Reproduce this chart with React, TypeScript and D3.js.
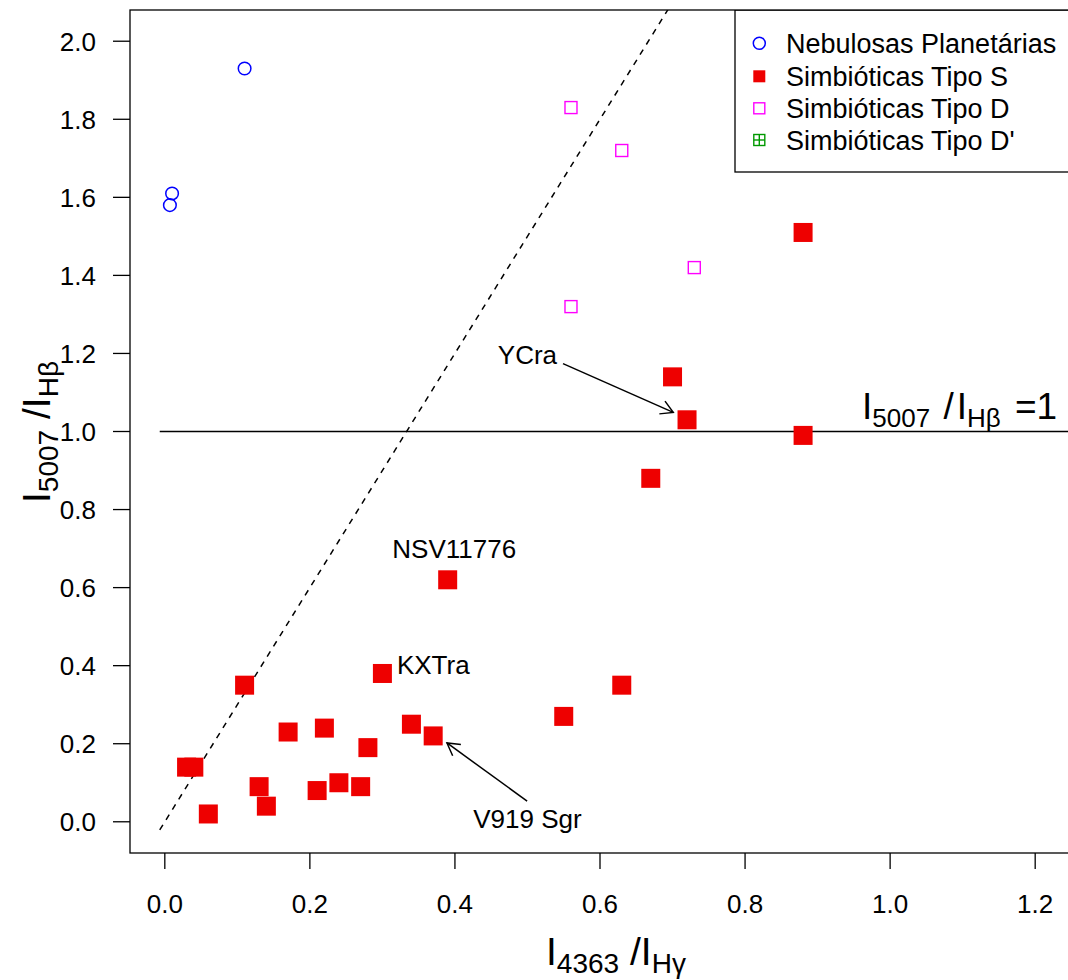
import React from "react";
import * as d3 from "d3";

// ---- data ----
const nebulosasX = [0.11, 0.01, 0.007];
const nebulosasY = [1.93, 1.61, 1.58];

const tipoSX = [0.03, 0.04, 0.06, 0.11, 0.13, 0.14, 0.17, 0.21, 0.24, 0.22, 0.27, 0.28, 0.3, 0.34, 0.37, 0.39, 0.55, 0.63, 0.67, 0.7, 0.72, 0.88, 0.88];
const tipoSY = [0.14, 0.14, 0.02, 0.35, 0.09, 0.04, 0.23, 0.08, 0.1, 0.24, 0.09, 0.19, 0.38, 0.25, 0.22, 0.62, 0.27, 0.35, 0.88, 1.14, 1.03, 0.99, 1.51];

const tipoDX = [0.56, 0.63, 0.73, 0.56];
const tipoDY = [1.83, 1.72, 1.42, 1.32];

const xTicks = [0, 0.2, 0.4, 0.6, 0.8, 1.0, 1.2];
const yTicks = [0, 0.2, 0.4, 0.6, 0.8, 1.0, 1.2, 1.4, 1.6, 1.8, 2.0];

const legendLabels = ["Nebulosas Planetárias", "Simbióticas Tipo S", "Simbióticas Tipo D", "Simbióticas Tipo D'"];

const annotText = ["YCra", "NSV11776", "KXTra", "V919 Sgr"];
const annotX = [0.5, 0.399, 0.32, 0.5];
const annotY = [1.174, 0.675, 0.379, -0.015];
const annotAnchor = ["middle", "middle", "start", "middle"];

// arrows: [x0, y0, x1, y1] in data units (tip at x1,y1)
const arrows = [
  [0.549, 1.174, 0.701, 1.049],
  [0.4995, 0.053, 0.389, 0.202],
];

const refLineX = [-0.007, 1.4];
const refLineY = 1.0;
const dashSlope = 3;

const W = 1068;
const H = 980;
const FONT = "'Liberation Sans', Arial, Helvetica, sans-serif";

export default function App() {
  const x = d3.scaleLinear().domain([-0.048, 1.248]).range([130, 1070]);
  const y = d3.scaleLinear().domain([-0.08, 2.08]).range([853, 10]);
  const [x0, x1] = x.range();
  const [y0, y1] = y.range();
  const fmt = d3.format(".1f");
  const red = "#ee0000";
  const sq = 19;
  const osq = 12;

  const dashX0 = -0.007;
  const dashX1 = 0.75;
  const line = d3.line<[number, number]>().x((d) => x(d[0])).y((d) => y(d[1]));

  const arrowHead = (a: number[]) => {
    const px0 = x(a[0]), py0 = y(a[1]), px1 = x(a[2]), py1 = y(a[3]);
    const ang = Math.atan2(py1 - py0, px1 - px0);
    const L = 14;
    const s = Math.PI / 6;
    const p1 = [px1 - L * Math.cos(ang - s), py1 - L * Math.sin(ang - s)];
    const p2 = [px1 - L * Math.cos(ang + s), py1 - L * Math.sin(ang + s)];
    return `M${p1[0]},${p1[1]}L${px1},${py1}L${p2[0]},${p2[1]}`;
  };

  const legX = 735;
  const legTop = 10;
  const legBottom = 172;
  const legRows = [43.3, 76.3, 108.3, 140];
  const symX = 759.3;
  const textX = 786;

  return (
    <svg width={W} height={H} style={{ position: "absolute", left: 0, top: 0, background: "#fff" }} fontFamily={FONT}>
      <defs>
        <clipPath id="plotclip">
          <rect x={x0} y={y1} width={x1 - x0} height={y0 - y1} />
        </clipPath>
      </defs>
      <rect x={0} y={0} width={W} height={H} fill="#fff" />

      <g clipPath="url(#plotclip)">
        {/* dashed line y = 3x */}
        <path
          d={line([[dashX0, dashSlope * dashX0], [dashX1, dashSlope * dashX1]]) || ""}
          stroke="#000"
          strokeWidth={1.5}
          strokeDasharray="6,6"
          fill="none"
        />
        {/* horizontal reference */}
        <line x1={x(refLineX[0])} x2={x(refLineX[1])} y1={y(refLineY)} y2={y(refLineY)} stroke="#000" strokeWidth={1.3} />

        {/* points */}
        {nebulosasX.map((v, i) => (
          <circle key={"n" + i} cx={x(v)} cy={y(nebulosasY[i])} r={6.3} fill="none" stroke="#0000ff" strokeWidth={1.5} />
        ))}
        {tipoSX.map((v, i) => (
          <rect key={"s" + i} x={x(v) - sq / 2} y={y(tipoSY[i]) - sq / 2} width={sq} height={sq} fill={red} />
        ))}
        {tipoDX.map((v, i) => (
          <rect key={"d" + i} x={x(v) - osq / 2} y={y(tipoDY[i]) - osq / 2} width={osq} height={osq} fill="none" stroke="#ff00ff" strokeWidth={1.4} />
        ))}

        {/* arrows */}
        {arrows.map((a, i) => (
          <g key={"a" + i} stroke="#000" strokeWidth={1.5} fill="none">
            <line x1={x(a[0])} y1={y(a[1])} x2={x(a[2])} y2={y(a[3])} />
            <path d={arrowHead(a)} />
          </g>
        ))}

        {/* annotations */}
        {annotText.map((t, i) => (
          <text key={"t" + i} x={x(annotX[i])} y={y(annotY[i])} fontSize={26} textAnchor={annotAnchor[i] as any} fill="#000">
            {t}
          </text>
        ))}

        {/* I5007/IHb = 1 label */}
        <text x={862} y={y(refLineY) - 13} fontSize={37} fill="#000">
          <tspan>I</tspan>
          <tspan fontSize={26} dy={8}>5007</tspan>
          <tspan dy={-8} dx={3}> /</tspan>
          <tspan dx={3}>I</tspan>
          <tspan fontSize={26} dy={8}>Hβ</tspan>
          <tspan dy={-8} dx={4}> =1</tspan>
        </text>

        {/* legend */}
        <rect x={legX} y={legTop} width={400} height={legBottom - legTop} fill="#fff" stroke="#000" strokeWidth={1.3} />
        <circle cx={symX} cy={legRows[0]} r={6} fill="none" stroke="#0000ff" strokeWidth={1.5} />
        <rect x={symX - 6} y={legRows[1] - 6} width={12} height={12} fill={red} />
        <rect x={symX - 5.5} y={legRows[2] - 5.5} width={11} height={11} fill="none" stroke="#ff00ff" strokeWidth={1.4} />
        <g stroke="#009900" strokeWidth={1.4} fill="none">
          <rect x={symX - 5.5} y={legRows[3] - 5.5} width={11} height={11} />
          <line x1={symX - 5.5} x2={symX + 5.5} y1={legRows[3]} y2={legRows[3]} />
          <line x1={symX} x2={symX} y1={legRows[3] - 5.5} y2={legRows[3] + 5.5} />
        </g>
        {legendLabels.map((t, i) => (
          <text key={"l" + i} x={textX} y={legRows[i]} dy="0.36em" fontSize={27} fill="#000">
            {t}
          </text>
        ))}
      </g>

      {/* box */}
      <rect x={x0} y={y1} width={x1 - x0} height={y0 - y1} fill="none" stroke="#000" strokeWidth={1.3} />

      {/* x axis */}
      {xTicks.map((t) => (
        <g key={"xt" + t}>
          <line x1={x(t)} x2={x(t)} y1={y0} y2={y0 + 16} stroke="#000" strokeWidth={1.3} />
          <text x={x(t)} y={912.5} fontSize={26} textAnchor="middle" fill="#000">
            {fmt(t)}
          </text>
        </g>
      ))}
      {/* y axis */}
      {yTicks.map((t) => (
        <g key={"yt" + t}>
          <line x1={x0 - 17} x2={x0} y1={y(t)} y2={y(t)} stroke="#000" strokeWidth={1.3} />
          <text x={96} y={y(t)} dy="0.36em" fontSize={26} textAnchor="end" fill="#000">
            {fmt(t)}
          </text>
        </g>
      ))}

      {/* x title */}
      <text x={546} y={965} fontSize={39} fill="#000">
        <tspan>I</tspan>
        <tspan fontSize={28} dy={8}>4363</tspan>
        <tspan dy={-8}> /I</tspan>
        <tspan fontSize={28} dy={8}>Hγ</tspan>
      </text>

      {/* y title */}
      <text transform="translate(50,503) rotate(-90)" x={0} y={0} fontSize={39} fill="#000">
        <tspan>I</tspan>
        <tspan fontSize={28} dy={8}>5007</tspan>
        <tspan dy={-8}> /I</tspan>
        <tspan fontSize={28} dy={8}>Hβ</tspan>
      </text>
    </svg>
  );
}
